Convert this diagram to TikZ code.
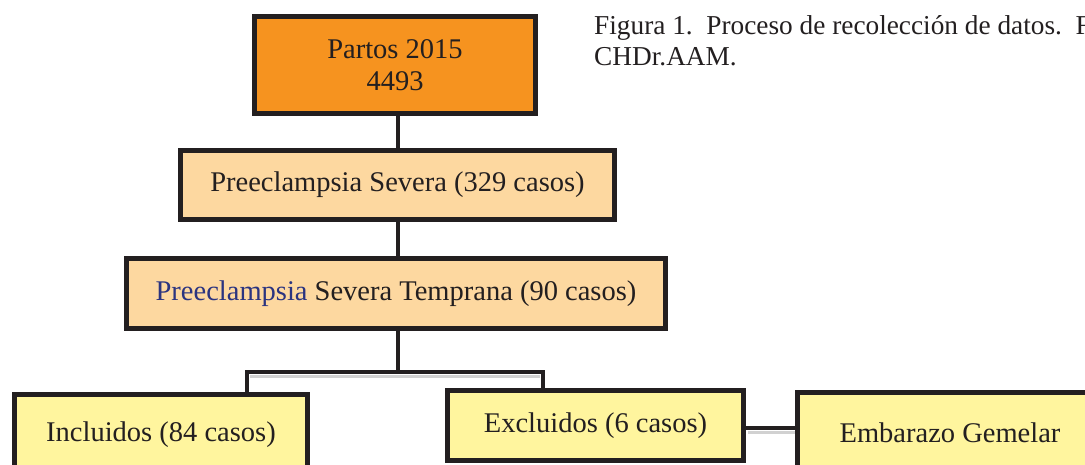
\documentclass[tikz,border=0pt]{standalone}
\usepackage{fontspec}
\setmainfont{Liberation Serif}
\definecolor{partosfill}{HTML}{F6931F}
\definecolor{sevfill}{HTML}{FDD8A0}
\definecolor{casofill}{HTML}{FFF59E}
\definecolor{lineink}{HTML}{231F20}
\definecolor{pblue}{HTML}{2B3480}
\tikzset{
  caja/.style={draw=lineink, line width=5pt, inner sep=0pt, align=center,
    font=\fontsize{28.5}{32}\selectfont, text=lineink},
  enlace/.style={draw=lineink, line width=4pt},
  sombra/.style={draw=black!18, line width=3pt}
}
\begin{document}
\begin{tikzpicture}[x=1pt,y=-1pt]
	\useasboundingbox (0,0) rectangle (1085,465);
	\clip (0,0) rectangle (1085,465);
	\fill[white] (0,0) rectangle (1085,465);

	%% caption
	\node[anchor=base west, inner sep=0pt, text=lineink,
		font=\fontsize{27.3}{31}\selectfont] (cap) at (594,35)
		{Figura 1.\ \ Proceso de recolección de datos.\ \ Fu};
	\node[anchor=base west, inner sep=0pt, text=lineink,
		font=\fontsize{27.3}{31}\selectfont] (cap2) at (594,66) {CHDr.AAM.};

	%% connector shadows
	\coordinate (fork) at (398,372);
	\coordinate (lfork) at (247,372);
	\coordinate (rfork) at (543,372);
	\draw[sombra] (250,376)--(540,376);
	\draw[sombra] (748,432)--(797,432);

	%% boxes
	\node[caja, fill=partosfill, minimum width=281pt, minimum height=97pt] at (395,65)(partos){Partos 2015\\4493};
	\node[caja, fill=sevfill, minimum width=434pt, minimum height=69pt] at (397.5,185)(sev){Preeclampsia Severa (329 casos)};
	\node[caja, fill=sevfill, minimum width=539pt, minimum height=70pt] at (396,293.5)(temp){\textcolor{pblue}{Preeclampsia} Severa Temprana (90 casos)};
	\node[caja, fill=casofill, minimum width=293pt, minimum height=80pt] at (161,434.5)(incl){Incluidos (84 casos)};
	\node[caja, fill=casofill, minimum width=296pt, minimum height=70pt] at (595.5,425.5)(excl){Excluidos (6 casos)};
	\node[caja, fill=casofill, minimum width=306pt, minimum height=80pt] at (950,432.5)(gem){Embarazo Gemelar};

	%% connectors
	\draw[enlace] (partos.south -| fork)--(sev.north -| fork);
	\draw[enlace] (sev.south -| fork)--(temp.north -| fork);
	\draw[enlace] (temp.south -| fork)--(fork);
	\draw[enlace, line cap=rect] (lfork)--(rfork);
	\draw[enlace] (lfork)--(incl.north -| lfork);
	\draw[enlace] (rfork)--(excl.north -| rfork);
	\draw[enlace] (excl.east |- 0,428)--(gem.west |- 0,428);
\end{tikzpicture}
\end{document}
